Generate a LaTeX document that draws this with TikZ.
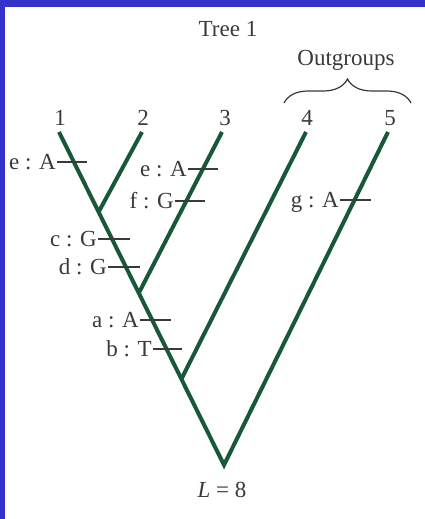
\documentclass[tikz,border=0pt]{standalone}
\usepackage{fontspec}
\setmainfont{Liberation Serif}
\usetikzlibrary{decorations.pathreplacing}
\definecolor{frameblue}{RGB}{51,51,204}
\definecolor{treegreen}{RGB}{24,88,58}
\definecolor{ink}{RGB}{58,58,58}
\begin{document}
\begin{tikzpicture}[x=1pt,y=-1pt,
  branch/.style={line width=4pt, draw=treegreen, line join=miter},
  tickline/.style={line width=1.2pt, draw=ink},
  lab/.style={text=ink, font=\fontsize{23}{27}\selectfont, inner sep=0pt},
  edgelab/.style={lab, anchor=base east, xshift=-1pt, yshift=-7pt}]
% frame
\fill[frameblue] (0,0) rectangle (425,519);
\fill[white] (5,7) rectangle (425,519);
\useasboundingbox (0,0) rectangle (425,519);
% tree coordinates
\coordinate (L1) at (59,132);
\coordinate (L2) at (142,132);
\coordinate (L3) at (222,132);
\coordinate (L4) at (306,132);
\coordinate (L5) at (388,132);
\coordinate (R) at (224,465);
\coordinate (J12) at (98.6,212);
\coordinate (J123) at (138.8,293);
\coordinate (J4) at (181.4,379);
% branches
\draw[branch] (L1) -- (R) -- (L5);
\draw[branch] (J12) -- (L2);
\draw[branch] (J123) -- (L3);
\draw[branch] (J4) -- (L4);
% leaf labels
\node[lab, anchor=base] (n1) at (60,125) {1};
\node[lab, anchor=base] (n2) at (143,125) {2};
\node[lab, anchor=base] (n3) at (225,125) {3};
\node[lab, anchor=base] (n4) at (307,125) {4};
\node[lab, anchor=base] (n5) at (390,125) {5};
% title
\node[lab, anchor=base] (title) at (228,37) {Tree 1};
\node[lab, anchor=base] (out) at (346,66) {Outgroups};
\coordinate (bl) at (284,103);
\coordinate (br) at (411,103);
\draw[tickline, decorate, decoration={brace, amplitude=24pt}] (bl) -- (br);
% character changes
\coordinate (t1a) at (57,162);  \coordinate (t1b) at (87,162);
\coordinate (t2a) at (188,169); \coordinate (t2b) at (218,169);
\coordinate (t3a) at (175,201); \coordinate (t3b) at (205,201);
\coordinate (t4a) at (98,239);  \coordinate (t4b) at (130,239);
\coordinate (t5a) at (108,267); \coordinate (t5b) at (140,267);
\coordinate (t6a) at (140,320); \coordinate (t6b) at (171,320);
\coordinate (t7a) at (153,349); \coordinate (t7b) at (182,349);
\coordinate (t8a) at (340,200); \coordinate (t8b) at (371,200);
\draw[tickline] (t1a) -- (t1b);
\draw[tickline] (t2a) -- (t2b);
\draw[tickline] (t3a) -- (t3b);
\draw[tickline] (t4a) -- (t4b);
\draw[tickline] (t5a) -- (t5b);
\draw[tickline] (t6a) -- (t6b);
\draw[tickline] (t7a) -- (t7b);
\draw[tickline] (t8a) -- (t8b);
\node[edgelab] (c1) at (t1a) {e : A};
\node[edgelab] (c2) at (t2a) {e : A};
\node[edgelab] (c3) at (t3a) {f : G};
\node[edgelab] (c4) at (t4a) {c : G};
\node[edgelab] (c5) at (t5a) {d : G};
\node[edgelab] (c6) at (t6a) {a : A};
\node[edgelab] (c7) at (t7a) {b : T};
\node[edgelab] (c8) at (t8a) {g : A};
% score
\node[lab, anchor=base] (score) at (222,497) {\textit{L} = 8};
\end{tikzpicture}
\end{document}
